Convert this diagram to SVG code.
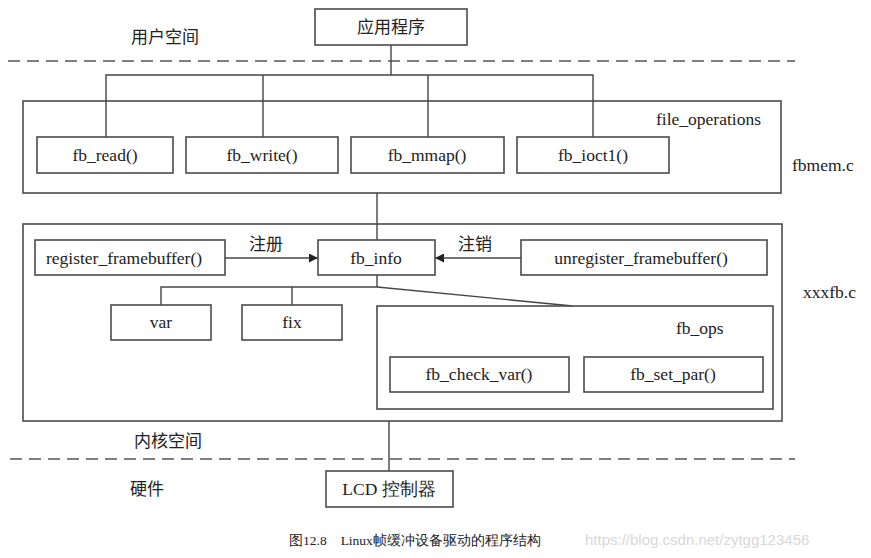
<svg xmlns="http://www.w3.org/2000/svg" width="871" height="558" viewBox="0 0 871 558">
<style>
text{font-family:"Liberation Serif","Times New Roman",serif;font-size:17.5px;fill:#222}
.zh{font-family:"Noto Sans CJK SC","Liberation Serif",serif;font-size:17px}
.c{text-anchor:middle}
.box{fill:#fff;stroke:#4a4a4a;stroke-width:1.6}
.ln{fill:none;stroke:#444;stroke-width:1.4}
.dash{fill:none;stroke:#555;stroke-width:1.6;stroke-dasharray:12 7}
.cap{font-size:13.5px}
.wm{font-family:"Liberation Sans",sans-serif;font-size:15px;fill:#d8d8d8}
</style>
<defs>
<marker id="ah" viewBox="0 0 10 10" refX="10" refY="5" markerWidth="10" markerHeight="9" markerUnits="userSpaceOnUse" orient="auto">
<path d="M0,0 L10,5 L0,10 z" fill="#222"/>
</marker>
</defs>
<rect width="871" height="558" fill="#fff"/>
<line class="dash" x1="8" y1="61" x2="795" y2="61"/>
<line class="dash" x1="10" y1="459" x2="795" y2="459"/>
<text x="165" y="43" class="c zh">用户空间</text>
<text x="168" y="447" class="c zh">内核空间</text>
<text x="147" y="495" class="c zh">硬件</text>
<g id="fbmem">
<rect class="box" x="23" y="101" width="758" height="92"/>
<text x="656" y="125">file_operations</text>
</g>
<text x="792" y="171">fbmem.c</text>
<g id="xxxfb">
<rect class="box" x="23" y="224" width="759" height="197"/>
</g>
<text x="803" y="298">xxxfb.c</text>
<g id="connectors">
<line class="ln" x1="391" y1="45" x2="391" y2="75"/>
<polyline class="ln" points="106,137 106,75 593,75 593,137"/>
<line class="ln" x1="263" y1="75" x2="263" y2="137"/>
<line class="ln" x1="428" y1="75" x2="428" y2="137"/>
<line class="ln" x1="377" y1="193" x2="377" y2="240"/>
<line class="ln" x1="225" y1="258" x2="318" y2="258" marker-end="url(#ah)"/>
<line class="ln" x1="521" y1="258" x2="435" y2="258" marker-end="url(#ah)"/>
<line class="ln" x1="377" y1="275" x2="377" y2="287"/>
<polyline class="ln" points="161,305 161,287 377,287 573,306"/>
<line class="ln" x1="292" y1="287" x2="292" y2="305"/>
<line class="ln" x1="389" y1="421" x2="389" y2="471"/>
</g>
<g id="app"><rect class="box" x="315" y="9" width="152" height="36"/><text x="391" y="33" class="c zh">应用程序</text></g>
<g id="fb_read"><rect class="box" x="37" y="137" width="136" height="36"/><text x="105" y="161" class="c">fb_read()</text></g>
<g id="fb_write"><rect class="box" x="186" y="137" width="152" height="36"/><text x="262" y="161" class="c">fb_write()</text></g>
<g id="fb_mmap"><rect class="box" x="351" y="137" width="153" height="36"/><text x="427" y="161" class="c">fb_mmap()</text></g>
<g id="fb_ioctl"><rect class="box" x="517" y="137" width="152" height="36"/><text x="593" y="161" class="c">fb_ioct1()</text></g>
<g id="register"><rect class="box" x="35" y="240" width="190" height="35"/><text x="124" y="264" class="c">register_framebuffer()</text></g>
<text x="266" y="250" class="c zh">注册</text>
<g id="fb_info"><rect class="box" x="318" y="240" width="117" height="35"/><text x="376" y="264" class="c">fb_info</text></g>
<text x="475" y="250" class="c zh">注销</text>
<g id="unregister"><rect class="box" x="521" y="240" width="246" height="35"/><text x="641" y="264" class="c">unregister_framebuffer()</text></g>
<g id="var"><rect class="box" x="111" y="305" width="100" height="35"/><text x="161" y="328" class="c">var</text></g>
<g id="fix"><rect class="box" x="242" y="305" width="100" height="35"/><text x="292" y="328" class="c">fix</text></g>
<g id="fb_ops"><rect class="box" x="377" y="306" width="396" height="103"/><text x="676" y="334">fb_ops</text></g>
<g id="fb_check_var"><rect class="box" x="390" y="357" width="179" height="35"/><text x="479" y="380" class="c">fb_check_var()</text></g>
<g id="fb_set_par"><rect class="box" x="584" y="357" width="179" height="35"/><text x="673" y="380" class="c">fb_set_par()</text></g>
<g id="lcd"><rect class="box" x="326" y="471" width="127" height="36"/><text x="389" y="495" class="c" font-family="Liberation Serif, Noto Sans CJK SC, serif">LCD 控制器</text></g>
<text x="289" y="545" class="cap" font-family="Liberation Serif, Noto Serif CJK SC, Noto Sans CJK SC, serif">图12.8　Linux帧缓冲设备驱动的程序结构</text>
<text x="585" y="545" class="wm">https://blog.csdn.net/zytgg123456</text>
</svg>
